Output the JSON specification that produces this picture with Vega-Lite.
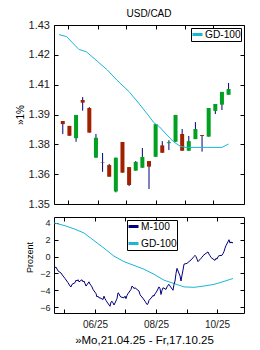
{
  "$schema": "https://vega.github.io/schema/vega-lite/v6.json",
  "background": "white",
  "padding": {"left": 14, "top": 8, "right": 5, "bottom": 0},
  "config": {
    "view": {"stroke": "black", "strokeWidth": 1},
    "font": "Liberation Sans",
    "axis": {"grid": false, "domain": false, "tickColor": "black", "tickSize": -4, "labelFont": "Liberation Sans", "labelColor": "#222222", "titleFont": "Liberation Sans", "titleFontWeight": "normal", "titleColor": "black"},
    "legend": {"labelFont": "Liberation Sans", "labelColor": "black"}
  },
  "datasets": {
    "candles": [
      {"date": "2025-04-25", "open": 1.3871, "high": 1.3871, "low": 1.3813, "close": 1.3857},
      {"date": "2025-05-02", "open": 1.3849, "high": 1.3849, "low": 1.3805, "close": 1.3805},
      {"date": "2025-05-09", "open": 1.3794, "high": 1.3898, "low": 1.3778, "close": 1.3898},
      {"date": "2025-05-16", "open": 1.3965, "high": 1.3978, "low": 1.3917, "close": 1.3953},
      {"date": "2025-05-23", "open": 1.3929, "high": 1.3933, "low": 1.3819, "close": 1.3819},
      {"date": "2025-05-30", "open": 1.3707, "high": 1.3813, "low": 1.3707, "close": 1.3796},
      {"date": "2025-06-06", "open": 1.3687, "high": 1.3728, "low": 1.3644, "close": 1.3685},
      {"date": "2025-06-13", "open": 1.3674, "high": 1.3679, "low": 1.3622, "close": 1.3622},
      {"date": "2025-06-20", "open": 1.3556, "high": 1.3707, "low": 1.3552, "close": 1.3707},
      {"date": "2025-06-27", "open": 1.3777, "high": 1.3777, "low": 1.3640, "close": 1.3640},
      {"date": "2025-07-04", "open": 1.3665, "high": 1.3665, "low": 1.3580, "close": 1.3585},
      {"date": "2025-07-11", "open": 1.3649, "high": 1.3692, "low": 1.3649, "close": 1.3688},
      {"date": "2025-07-18", "open": 1.3662, "high": 1.3750, "low": 1.3662, "close": 1.3710},
      {"date": "2025-07-25", "open": 1.3692, "high": 1.3692, "low": 1.3567, "close": 1.3667},
      {"date": "2025-08-01", "open": 1.3711, "high": 1.3857, "low": 1.3711, "close": 1.3857},
      {"date": "2025-08-08", "open": 1.3762, "high": 1.3781, "low": 1.3729, "close": 1.3729},
      {"date": "2025-08-15", "open": 1.3772, "high": 1.3785, "low": 1.3741, "close": 1.3776},
      {"date": "2025-08-22", "open": 1.3778, "high": 1.3898, "low": 1.3778, "close": 1.3898},
      {"date": "2025-08-29", "open": 1.3813, "high": 1.3835, "low": 1.3738, "close": 1.3738},
      {"date": "2025-09-05", "open": 1.3738, "high": 1.3804, "low": 1.3738, "close": 1.3781},
      {"date": "2025-09-12", "open": 1.3790, "high": 1.3866, "low": 1.3790, "close": 1.3835},
      {"date": "2025-09-19", "open": 1.3808, "high": 1.3808, "low": 1.3734, "close": 1.3804},
      {"date": "2025-09-26", "open": 1.3801, "high": 1.3929, "low": 1.3801, "close": 1.3929},
      {"date": "2025-10-03", "open": 1.3916, "high": 1.3947, "low": 1.3902, "close": 1.3947},
      {"date": "2025-10-10", "open": 1.3944, "high": 1.4001, "low": 1.3920, "close": 1.4001},
      {"date": "2025-10-17", "open": 1.3988, "high": 1.4041, "low": 1.3988, "close": 1.4014}
    ],
    "gdtop": [
      {"date": "2025-04-21", "v": 1.4257, "s": "GD-100"},
      {"date": "2025-04-29", "v": 1.4248, "s": "GD-100"},
      {"date": "2025-05-12", "v": 1.4191, "s": "GD-100"},
      {"date": "2025-05-20", "v": 1.4180, "s": "GD-100"},
      {"date": "2025-06-01", "v": 1.4136, "s": "GD-100"},
      {"date": "2025-06-11", "v": 1.4099, "s": "GD-100"},
      {"date": "2025-06-21", "v": 1.4054, "s": "GD-100"},
      {"date": "2025-07-04", "v": 1.4002, "s": "GD-100"},
      {"date": "2025-07-14", "v": 1.3951, "s": "GD-100"},
      {"date": "2025-07-24", "v": 1.3898, "s": "GD-100"},
      {"date": "2025-07-30", "v": 1.3864, "s": "GD-100"},
      {"date": "2025-08-05", "v": 1.3845, "s": "GD-100"},
      {"date": "2025-08-13", "v": 1.3808, "s": "GD-100"},
      {"date": "2025-08-20", "v": 1.3778, "s": "GD-100"},
      {"date": "2025-08-27", "v": 1.3758, "s": "GD-100"},
      {"date": "2025-09-02", "v": 1.3753, "s": "GD-100"},
      {"date": "2025-10-10", "v": 1.3753, "s": "GD-100"},
      {"date": "2025-10-17", "v": 1.3768, "s": "GD-100"}
    ],
    "lower": [
      {"date": "2025-04-21", "v": 4.0, "s": "GD-100"},
      {"date": "2025-05-01", "v": 3.7, "s": "GD-100"},
      {"date": "2025-05-11", "v": 3.3, "s": "GD-100"},
      {"date": "2025-05-21", "v": 2.8, "s": "GD-100"},
      {"date": "2025-05-31", "v": 1.9, "s": "GD-100"},
      {"date": "2025-06-10", "v": 1.0, "s": "GD-100"},
      {"date": "2025-06-20", "v": 0.05, "s": "GD-100"},
      {"date": "2025-06-30", "v": -0.6, "s": "GD-100"},
      {"date": "2025-07-10", "v": -1.05, "s": "GD-100"},
      {"date": "2025-07-20", "v": -1.5, "s": "GD-100"},
      {"date": "2025-07-30", "v": -2.1, "s": "GD-100"},
      {"date": "2025-08-09", "v": -2.8, "s": "GD-100"},
      {"date": "2025-08-19", "v": -3.2, "s": "GD-100"},
      {"date": "2025-08-29", "v": -3.6, "s": "GD-100"},
      {"date": "2025-09-08", "v": -3.65, "s": "GD-100"},
      {"date": "2025-09-18", "v": -3.5, "s": "GD-100"},
      {"date": "2025-09-28", "v": -3.3, "s": "GD-100"},
      {"date": "2025-10-08", "v": -2.95, "s": "GD-100"},
      {"date": "2025-10-17", "v": -2.6, "s": "GD-100"},
      {"date": "2025-04-21", "v": -1.35, "s": "M-100"},
      {"date": "2025-04-23", "v": -1.25, "s": "M-100"},
      {"date": "2025-04-25", "v": -1.7, "s": "M-100"},
      {"date": "2025-04-28", "v": -1.95, "s": "M-100"},
      {"date": "2025-04-30", "v": -2.3, "s": "M-100"},
      {"date": "2025-05-02", "v": -2.6, "s": "M-100"},
      {"date": "2025-05-05", "v": -3.1, "s": "M-100"},
      {"date": "2025-05-07", "v": -3.5, "s": "M-100"},
      {"date": "2025-05-08", "v": -3.6, "s": "M-100"},
      {"date": "2025-05-09", "v": -3.3, "s": "M-100"},
      {"date": "2025-05-12", "v": -3.1, "s": "M-100"},
      {"date": "2025-05-13", "v": -2.8, "s": "M-100"},
      {"date": "2025-05-14", "v": -2.9, "s": "M-100"},
      {"date": "2025-05-15", "v": -2.75, "s": "M-100"},
      {"date": "2025-05-16", "v": -3.0, "s": "M-100"},
      {"date": "2025-05-19", "v": -2.75, "s": "M-100"},
      {"date": "2025-05-20", "v": -3.0, "s": "M-100"},
      {"date": "2025-05-21", "v": -2.9, "s": "M-100"},
      {"date": "2025-05-22", "v": -3.2, "s": "M-100"},
      {"date": "2025-05-23", "v": -3.5, "s": "M-100"},
      {"date": "2025-05-26", "v": -3.0, "s": "M-100"},
      {"date": "2025-05-27", "v": -3.3, "s": "M-100"},
      {"date": "2025-05-28", "v": -3.4, "s": "M-100"},
      {"date": "2025-05-29", "v": -3.6, "s": "M-100"},
      {"date": "2025-05-30", "v": -3.9, "s": "M-100"},
      {"date": "2025-06-02", "v": -4.4, "s": "M-100"},
      {"date": "2025-06-03", "v": -4.8, "s": "M-100"},
      {"date": "2025-06-04", "v": -4.7, "s": "M-100"},
      {"date": "2025-06-05", "v": -4.9, "s": "M-100"},
      {"date": "2025-06-06", "v": -4.9, "s": "M-100"},
      {"date": "2025-06-09", "v": -5.1, "s": "M-100"},
      {"date": "2025-06-10", "v": -4.7, "s": "M-100"},
      {"date": "2025-06-11", "v": -5.0, "s": "M-100"},
      {"date": "2025-06-12", "v": -5.2, "s": "M-100"},
      {"date": "2025-06-13", "v": -5.4, "s": "M-100"},
      {"date": "2025-06-16", "v": -5.9, "s": "M-100"},
      {"date": "2025-06-17", "v": -5.4, "s": "M-100"},
      {"date": "2025-06-18", "v": -5.3, "s": "M-100"},
      {"date": "2025-06-19", "v": -5.5, "s": "M-100"},
      {"date": "2025-06-20", "v": -5.75, "s": "M-100"},
      {"date": "2025-06-23", "v": -5.0, "s": "M-100"},
      {"date": "2025-06-24", "v": -4.3, "s": "M-100"},
      {"date": "2025-06-25", "v": -4.4, "s": "M-100"},
      {"date": "2025-06-26", "v": -4.7, "s": "M-100"},
      {"date": "2025-06-27", "v": -4.8, "s": "M-100"},
      {"date": "2025-06-30", "v": -4.9, "s": "M-100"},
      {"date": "2025-07-01", "v": -4.7, "s": "M-100"},
      {"date": "2025-07-02", "v": -5.0, "s": "M-100"},
      {"date": "2025-07-03", "v": -4.6, "s": "M-100"},
      {"date": "2025-07-04", "v": -4.4, "s": "M-100"},
      {"date": "2025-07-07", "v": -3.9, "s": "M-100"},
      {"date": "2025-07-08", "v": -3.5, "s": "M-100"},
      {"date": "2025-07-09", "v": -3.6, "s": "M-100"},
      {"date": "2025-07-10", "v": -3.8, "s": "M-100"},
      {"date": "2025-07-11", "v": -3.7, "s": "M-100"},
      {"date": "2025-07-14", "v": -4.0, "s": "M-100"},
      {"date": "2025-07-15", "v": -4.1, "s": "M-100"},
      {"date": "2025-07-16", "v": -4.5, "s": "M-100"},
      {"date": "2025-07-17", "v": -4.7, "s": "M-100"},
      {"date": "2025-07-18", "v": -4.8, "s": "M-100"},
      {"date": "2025-07-21", "v": -5.3, "s": "M-100"},
      {"date": "2025-07-22", "v": -5.5, "s": "M-100"},
      {"date": "2025-07-23", "v": -5.7, "s": "M-100"},
      {"date": "2025-07-24", "v": -5.6, "s": "M-100"},
      {"date": "2025-07-25", "v": -5.2, "s": "M-100"},
      {"date": "2025-07-28", "v": -4.8, "s": "M-100"},
      {"date": "2025-07-29", "v": -4.6, "s": "M-100"},
      {"date": "2025-07-30", "v": -4.7, "s": "M-100"},
      {"date": "2025-07-31", "v": -4.4, "s": "M-100"},
      {"date": "2025-08-01", "v": -4.3, "s": "M-100"},
      {"date": "2025-08-04", "v": -3.6, "s": "M-100"},
      {"date": "2025-08-05", "v": -3.8, "s": "M-100"},
      {"date": "2025-08-06", "v": -4.5, "s": "M-100"},
      {"date": "2025-08-07", "v": -4.0, "s": "M-100"},
      {"date": "2025-08-08", "v": -3.7, "s": "M-100"},
      {"date": "2025-08-11", "v": -3.9, "s": "M-100"},
      {"date": "2025-08-12", "v": -3.6, "s": "M-100"},
      {"date": "2025-08-13", "v": -3.4, "s": "M-100"},
      {"date": "2025-08-14", "v": -3.3, "s": "M-100"},
      {"date": "2025-08-15", "v": -3.5, "s": "M-100"},
      {"date": "2025-08-18", "v": -4.0, "s": "M-100"},
      {"date": "2025-08-19", "v": -3.3, "s": "M-100"},
      {"date": "2025-08-20", "v": -2.9, "s": "M-100"},
      {"date": "2025-08-21", "v": -2.0, "s": "M-100"},
      {"date": "2025-08-22", "v": -1.4, "s": "M-100"},
      {"date": "2025-08-25", "v": -2.3, "s": "M-100"},
      {"date": "2025-08-26", "v": -2.9, "s": "M-100"},
      {"date": "2025-08-27", "v": -2.2, "s": "M-100"},
      {"date": "2025-08-28", "v": -1.6, "s": "M-100"},
      {"date": "2025-08-29", "v": -0.9, "s": "M-100"},
      {"date": "2025-09-01", "v": -0.8, "s": "M-100"},
      {"date": "2025-09-02", "v": -0.7, "s": "M-100"},
      {"date": "2025-09-03", "v": -0.6, "s": "M-100"},
      {"date": "2025-09-04", "v": -0.5, "s": "M-100"},
      {"date": "2025-09-05", "v": -0.4, "s": "M-100"},
      {"date": "2025-09-08", "v": 0.0, "s": "M-100"},
      {"date": "2025-09-09", "v": 0.15, "s": "M-100"},
      {"date": "2025-09-10", "v": 0.0, "s": "M-100"},
      {"date": "2025-09-11", "v": -0.3, "s": "M-100"},
      {"date": "2025-09-12", "v": -0.6, "s": "M-100"},
      {"date": "2025-09-15", "v": -0.2, "s": "M-100"},
      {"date": "2025-09-16", "v": -0.1, "s": "M-100"},
      {"date": "2025-09-17", "v": 0.1, "s": "M-100"},
      {"date": "2025-09-18", "v": 0.2, "s": "M-100"},
      {"date": "2025-09-19", "v": 0.3, "s": "M-100"},
      {"date": "2025-09-22", "v": 0.55, "s": "M-100"},
      {"date": "2025-09-23", "v": 0.3, "s": "M-100"},
      {"date": "2025-09-24", "v": 0.1, "s": "M-100"},
      {"date": "2025-09-25", "v": -0.1, "s": "M-100"},
      {"date": "2025-09-26", "v": -0.2, "s": "M-100"},
      {"date": "2025-09-29", "v": -0.45, "s": "M-100"},
      {"date": "2025-09-30", "v": -0.2, "s": "M-100"},
      {"date": "2025-10-01", "v": -0.3, "s": "M-100"},
      {"date": "2025-10-02", "v": 0.0, "s": "M-100"},
      {"date": "2025-10-03", "v": 0.1, "s": "M-100"},
      {"date": "2025-10-06", "v": 0.15, "s": "M-100"},
      {"date": "2025-10-07", "v": 0.35, "s": "M-100"},
      {"date": "2025-10-08", "v": 0.6, "s": "M-100"},
      {"date": "2025-10-09", "v": 1.0, "s": "M-100"},
      {"date": "2025-10-10", "v": 1.3, "s": "M-100"},
      {"date": "2025-10-13", "v": 2.0, "s": "M-100"},
      {"date": "2025-10-14", "v": 1.6, "s": "M-100"},
      {"date": "2025-10-15", "v": 1.75, "s": "M-100"},
      {"date": "2025-10-16", "v": 1.6, "s": "M-100"},
      {"date": "2025-10-17", "v": 1.7, "s": "M-100"}
    ]
  },
  "spacing": 6,
  "resolve": {"scale": {"color": "independent"}},
  "vconcat": [
    {
      "width": 190,
      "height": 179,
      "title": {"text": "USD/CAD", "frame": "group", "anchor": "middle", "fontSize": 10, "fontWeight": "normal", "font": "Liberation Sans", "color": "black", "offset": 0},
      "resolve": {"axis": {"x": "independent", "y": "independent"}},
      "layer": [
        {
          "data": {"name": "candles"},
          "mark": {"type": "rule", "color": "#000080", "strokeWidth": 1},
          "encoding": {
            "x": {"field": "date", "type": "temporal", "scale": {"type": "utc", "domain": [{"year": 2025, "month": 4, "date": 21, "utc": true}, {"year": 2025, "month": 10, "date": 28, "utc": true}]},
              "axis": {"orient": "bottom", "labels": false, "title": null, "values": [{"year": 2025, "month": 5, "date": 1, "utc": true}, {"year": 2025, "month": 6, "date": 1, "utc": true}, {"year": 2025, "month": 7, "date": 1, "utc": true}, {"year": 2025, "month": 8, "date": 1, "utc": true}, {"year": 2025, "month": 9, "date": 1, "utc": true}, {"year": 2025, "month": 10, "date": 1, "utc": true}]}},
            "y": {"field": "low", "type": "quantitative", "scale": {"domain": [1.35, 1.43], "nice": false, "zero": false},
              "axis": {"orient": "left", "values": [1.35, 1.363333, 1.376667, 1.39, 1.403333, 1.416667, 1.43], "labelExpr": "['1.35','1.36','1.38','1.39','1.41','1.42','1.43'][round((datum.value-1.35)/0.0133333)]", "labelFontSize": 11, "labelPadding": 8.5, "title": "»1%", "titleFontSize": 10, "titlePadding": 3}},
            "y2": {"field": "high"}
          }
        },
        {
          "data": {"name": "candles"},
          "mark": {"type": "bar", "size": 4},
          "encoding": {
            "x": {"field": "date", "type": "temporal", "scale": {"type": "utc", "domain": [{"year": 2025, "month": 4, "date": 21, "utc": true}, {"year": 2025, "month": 10, "date": 28, "utc": true}]},
              "axis": {"orient": "top", "labels": false, "title": null, "values": [{"year": 2025, "month": 5, "date": 1, "utc": true}, {"year": 2025, "month": 6, "date": 1, "utc": true}, {"year": 2025, "month": 7, "date": 1, "utc": true}, {"year": 2025, "month": 8, "date": 1, "utc": true}, {"year": 2025, "month": 9, "date": 1, "utc": true}, {"year": 2025, "month": 10, "date": 1, "utc": true}]}},
            "y": {"field": "open", "type": "quantitative", "scale": {"domain": [1.35, 1.43], "nice": false, "zero": false},
              "axis": {"orient": "right", "labels": false, "title": null, "values": [1.35, 1.363333, 1.376667, 1.39, 1.403333, 1.416667, 1.43]}},
            "y2": {"field": "close"},
            "color": {"condition": {"test": "datum.close >= datum.open", "value": "#00a020"}, "value": "#a02000"}
          }
        },
        {
          "data": {"name": "gdtop"},
          "mark": {"type": "line", "strokeWidth": 1},
          "encoding": {
            "x": {"field": "date", "type": "temporal", "axis": null},
            "y": {"field": "v", "type": "quantitative", "axis": null},
            "color": {"field": "s", "type": "nominal", "scale": {"domain": ["GD-100"], "range": ["#1bb6d6"]},
              "legend": {"orient": "none", "legendX": 137, "legendY": 3, "title": null, "strokeColor": "black", "fillColor": "white", "padding": 0, "symbolType": "stroke", "symbolStrokeWidth": 3, "symbolSize": 100, "labelFontSize": 10.2, "labelOffset": 1}}
          }
        }
      ]
    },
    {
      "width": 190,
      "height": 96,
      "data": {"name": "lower"},
      "resolve": {"axis": {"x": "independent", "y": "independent"}},
      "layer": [
        {
          "mark": {"type": "line", "strokeWidth": 1},
          "encoding": {
            "x": {"field": "date", "type": "temporal", "scale": {"type": "utc", "domain": [{"year": 2025, "month": 4, "date": 21, "utc": true}, {"year": 2025, "month": 10, "date": 28, "utc": true}]},
              "axis": {"orient": "bottom", "values": [{"year": 2025, "month": 5, "date": 1, "utc": true}, {"year": 2025, "month": 6, "date": 1, "utc": true}, {"year": 2025, "month": 7, "date": 1, "utc": true}, {"year": 2025, "month": 8, "date": 1, "utc": true}, {"year": 2025, "month": 9, "date": 1, "utc": true}, {"year": 2025, "month": 10, "date": 1, "utc": true}],
                "labelExpr": "utcmonth(datum.value) % 2 == 1 ? utcFormat(datum.value, '%m/%y') : ''", "labelFontSize": 10, "labelPadding": 10, "title": "»Mo,21.04.25 - Fr,17.10.25", "titleFontSize": 11.5, "titlePadding": 5, "titleX": 90}},
            "y": {"field": "v", "type": "quantitative", "scale": {"domain": [-6.7, 4.7], "nice": false, "zero": false},
              "axis": {"orient": "left", "values": [-6, -4, -2, 0, 2, 4], "labelFontSize": 9, "labelPadding": 8, "title": "Prozent", "titleFontSize": 9, "titlePadding": 5, "titleY": 40}},
            "color": {"field": "s", "type": "nominal", "sort": ["M-100", "GD-100"], "scale": {"domain": ["M-100", "GD-100"], "range": ["#000080", "#1bb6d6"]},
              "legend": {"orient": "none", "legendX": 73, "legendY": 3, "title": null, "strokeColor": "black", "fillColor": "white", "padding": 0, "rowPadding": 4, "symbolType": "stroke", "symbolStrokeWidth": 3, "symbolSize": 100, "labelFontSize": 10.2, "labelOffset": 1}}
          }
        },
        {
          "mark": {"type": "point", "opacity": 0},
          "encoding": {
            "x": {"field": "date", "type": "temporal", "scale": {"type": "utc", "domain": [{"year": 2025, "month": 4, "date": 21, "utc": true}, {"year": 2025, "month": 10, "date": 28, "utc": true}]},
              "axis": {"orient": "top", "labels": false, "title": null, "values": [{"year": 2025, "month": 5, "date": 1, "utc": true}, {"year": 2025, "month": 6, "date": 1, "utc": true}, {"year": 2025, "month": 7, "date": 1, "utc": true}, {"year": 2025, "month": 8, "date": 1, "utc": true}, {"year": 2025, "month": 9, "date": 1, "utc": true}, {"year": 2025, "month": 10, "date": 1, "utc": true}]}},
            "y": {"field": "v", "type": "quantitative", "scale": {"domain": [-6.7, 4.7], "nice": false, "zero": false},
              "axis": {"orient": "right", "labels": false, "title": null, "values": [-6, -4, -2, 0, 2, 4]}}
          }
        }
      ]
    }
  ]
}
